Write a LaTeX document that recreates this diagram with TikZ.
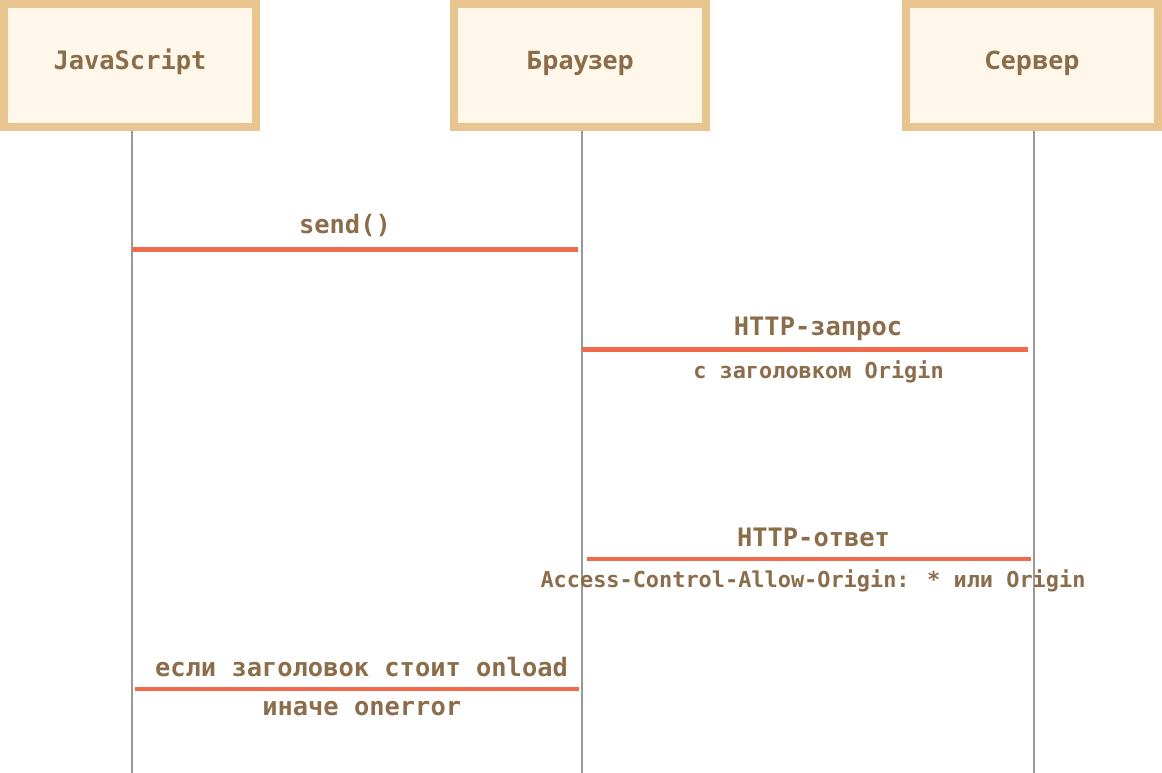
\documentclass[tikz,border=0pt]{standalone}
\usepackage{fontspec}
\newfontfamily\monofnt{DejaVu Sans Mono}
\newfontfamily\titlefnt{Open Sans}
\definecolor{boxborder}{HTML}{E8C48E}
\definecolor{boxfill}{HTML}{FFF8EA}
\definecolor{txt}{HTML}{8B6D4B}
\definecolor{msg}{HTML}{EF6B4B}
\definecolor{life}{HTML}{999999}
\tikzset{
  actor/.style={draw=boxborder, fill=boxfill, line width=8pt, minimum width=252pt, minimum height=123pt,
    text height=18pt, text depth=9pt, inner sep=0pt, text=txt},
  actormono/.style={actor, font=\monofnt\bfseries\fontsize{25.4}{30}\selectfont},
  actorsans/.style={actor, font=\titlefnt\bfseries\fontsize{25.5}{30}\selectfont},
  lifeline/.style={draw=life, line width=2pt},
  msgthick/.style={draw=msg, line width=5pt},
  msgthin/.style={draw=msg, line width=4pt},
  biglbl/.style={anchor=base, inner sep=0pt, text=txt, font=\monofnt\bfseries\fontsize{25.4}{30}\selectfont},
  smalllbl/.style={anchor=base, inner sep=0pt, text=txt, font=\monofnt\bfseries\fontsize{21.9}{26}\selectfont}
}
\begin{document}
\begin{tikzpicture}[x=1pt,y=-1pt]
\useasboundingbox (0,0) rectangle (1162,773);
% lifelines
\coordinate (jsTop) at (131.7,131);
\coordinate (jsBot) at (131.7,773);
\coordinate (brTop) at (582,131);
\coordinate (brBot) at (582,773);
\coordinate (svTop) at (1033.5,131);
\coordinate (svBot) at (1033.5,773);
\draw[lifeline] (jsTop) -- (jsBot);
\draw[lifeline] (brTop) -- (brBot);
\draw[lifeline] (svTop) -- (svBot);
% actors
\node[actormono] (js) at (130,65.5) {JavaScript};
\node[actorsans] (br) at (580,65.5) {Браузер};
\node[actorsans] (sv) at (1032,65.5) {Сервер};
% message 1
\coordinate (m1a) at (132,249);
\coordinate (m1b) at (578,249);
\draw[msgthick] (m1a) -- (m1b);
\node[biglbl] (t1) at (345,233) {send()};
% message 2
\coordinate (m2a) at (582,349);
\coordinate (m2b) at (1028,349);
\draw[msgthick] (m2a) -- (m2b);
\node[biglbl] (t2) at (818,335.5) {HTTP-запрос};
\node[smalllbl] (t2b) at (818.5,378) {с заголовком Origin};
% message 3
\coordinate (m3a) at (587,559);
\coordinate (m3b) at (1031,559);
\draw[msgthin] (m3a) -- (m3b);
\node[biglbl] (t3) at (813.5,546) {HTTP-ответ};
\node[smalllbl] (t3b) at (813,587) {Access-Control-Allow-Origin: * или Origin};
% message 4
\coordinate (m4a) at (135,689);
\coordinate (m4b) at (579,689);
\draw[msgthin] (m4a) -- (m4b);
\node[biglbl] (t4) at (361.5,676) {если заголовок стоит onload};
\node[biglbl] (t4b) at (361.7,715) {иначе onerror};
\end{tikzpicture}
\end{document}
